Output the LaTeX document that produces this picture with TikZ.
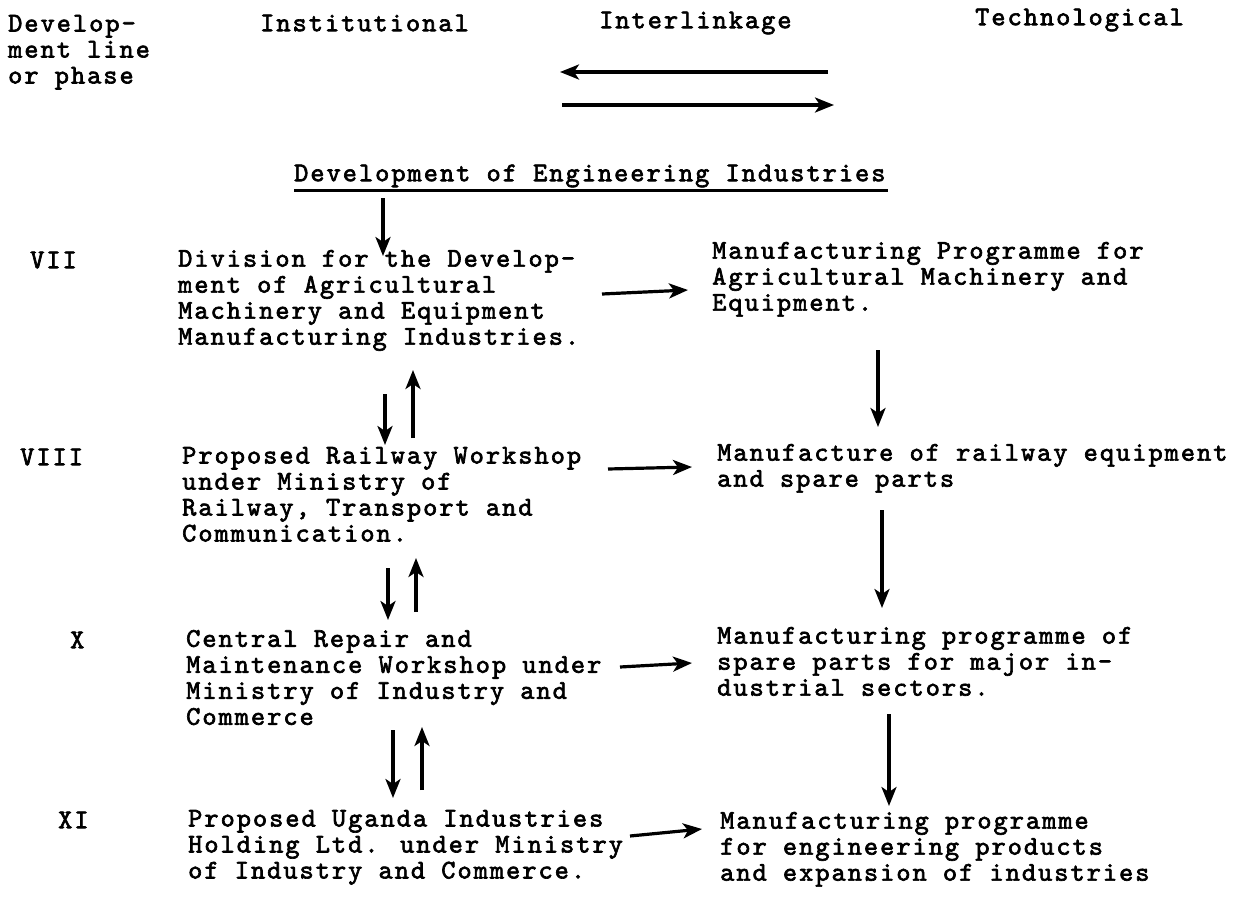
\documentclass[tikz,border=0pt]{standalone}
\usepackage{fontspec}
\newfontfamily\tw{lmmono10-regular.otf}[FakeBold=2.4,LetterSpace=7.5]
\usetikzlibrary{arrows.meta}
\begin{document}
\begin{tikzpicture}[x=1pt,y=-1pt,
  txt/.style={anchor=north west, inner sep=0pt, align=left,
    font=\tw\fontsize{27}{26}\selectfont,
    execute at begin node=\strut, execute at end node=\strut},
  arr/.style={line width=3.2pt,
    -{Stealth[length=19pt,width=15pt,inset=5pt]}},
  rule/.style={line width=3pt}]
\useasboundingbox[fill=white] (0,0) rectangle (1240,905);

% column heads
\node[txt] (hdphase) at (8,14.8) {Develop-\\ment line\\or phase};
\node[txt] (hdinst) at (260,12.8) {Institutional};
\node[txt] (hdlink) at (599,9.8) {Interlinkage};
\node[txt] (hdtech) at (975,6.8) {Technological};
\coordinate (lkA) at (828,72);
\coordinate (lkB) at (560,72);
\coordinate (lkC) at (562,105);
\coordinate (lkD) at (834,105);
\draw[arr] (lkA) -- (lkB);
\draw[arr] (lkC) -- (lkD);

% title
\node[txt] (title) at (294,162.8) {Development of Engineering Industries};
\draw[rule] ([yshift=-1.5pt]title.south west) -- ([yshift=-1.5pt,xshift=2pt]title.south east);

% phase numerals
\node[txt] (pVII)  at (30,249.8)  {VII};
\node[txt] (pVIII) at (20,446.8)  {VIII};
\node[txt] (pX)    at (70,629.8)  {X};
\node[txt] (pXI)   at (58,809.8)  {XI};

% institutional column
\node[txt] (inst1) at (178,249.8) {Division for the Develop-\\ment of Agricultural\\Machinery and Equipment\\Manufacturing Industries.};
\node[txt] (inst2) at (182,446.8) {Proposed Railway Workshop\\under Ministry of\\Railway, Transport and\\Communication.};
\node[txt] (inst3) at (186,629.8) {Central Repair and\\Maintenance Workshop under\\Ministry of Industry and\\Commerce};
\node[txt] (inst4) at (188,809.8) {Proposed Uganda Industries\\Holding Ltd. under Ministry\\of Industry and Commerce.};

% technological column
\node[txt] (tech1) at (712,241.8) {Manufacturing Programme for\\Agricultural Machinery and\\Equipment.};
\node[txt] (tech2) at (717,443.8) {Manufacture of railway equipment\\and spare parts};
\node[txt] (tech3) at (717,626.8) {Manufacturing programme of\\spare parts for major in-\\dustrial sectors.};
\node[txt] (tech4) at (720,811.8) {Manufacturing programme\\for engineering products\\and expansion of industries};

% title to first division
\coordinate (t0) at (383,198);
\coordinate (t1) at (383,256);
\draw[arr] (t0) -- (t1);

% institutional links, down and up
\coordinate (a1) at (385,394); \coordinate (a2) at (385,445);
\coordinate (a3) at (413,438); \coordinate (a4) at (413,370);
\draw[arr] (a1) -- (a2);
\draw[arr] (a3) -- (a4);
\coordinate (b1) at (388,568); \coordinate (b2) at (388,620);
\coordinate (b3) at (416,612); \coordinate (b4) at (416,558);
\draw[arr] (b1) -- (b2);
\draw[arr] (b3) -- (b4);
\coordinate (c1) at (393,730); \coordinate (c2) at (393,798);
\coordinate (c3) at (422,790); \coordinate (c4) at (422,727);
\draw[arr] (c1) -- (c2);
\draw[arr] (c3) -- (c4);

% interlinkages institutional -> technological
\coordinate (h1a) at (602,294); \coordinate (h1b) at (688,290);
\coordinate (h2a) at (608,469); \coordinate (h2b) at (692,467);
\coordinate (h3a) at (620,667); \coordinate (h3b) at (692,663);
\coordinate (h4a) at (630,836); \coordinate (h4b) at (702,829);
\draw[arr] (h1a) -- (h1b);
\draw[arr] (h2a) -- (h2b);
\draw[arr] (h3a) -- (h3b);
\draw[arr] (h4a) -- (h4b);

% technological sequence
\coordinate (v1a) at (878,350); \coordinate (v1b) at (878,427);
\coordinate (v2a) at (882,510); \coordinate (v2b) at (882,608);
\coordinate (v3a) at (889,714); \coordinate (v3b) at (889,806);
\draw[arr] (v1a) -- (v1b);
\draw[arr] (v2a) -- (v2b);
\draw[arr] (v3a) -- (v3b);
\end{tikzpicture}
\end{document}
